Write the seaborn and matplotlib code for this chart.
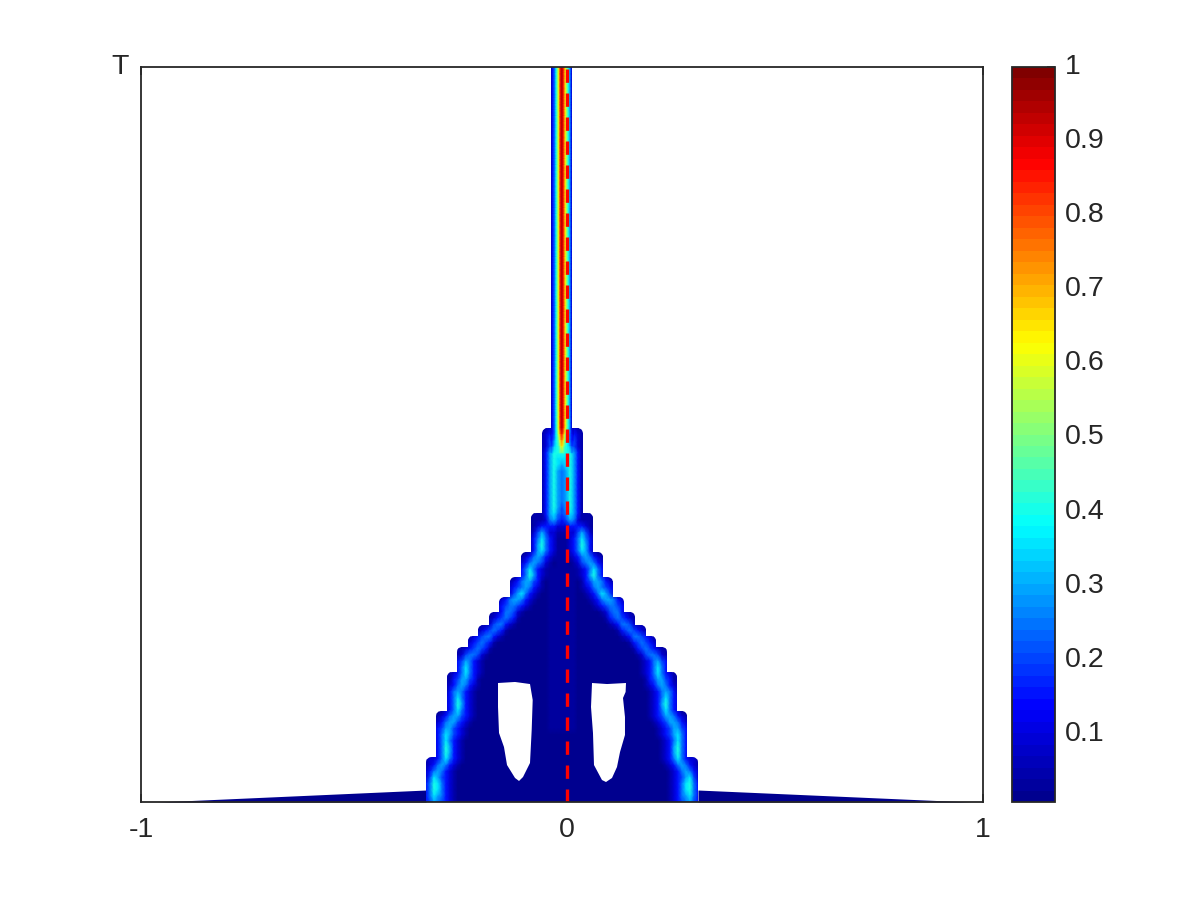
import numpy as np
import pandas as pd
import matplotlib
matplotlib.use("Agg")
import matplotlib.pyplot as plt
import seaborn as sns
from matplotlib.colors import LinearSegmentedColormap
from matplotlib.path import Path
from matplotlib.transforms import Affine2D

sns.set_style("white")
plt.rcParams['font.family'] = ['Liberation Sans', 'DejaVu Sans']
dark = '#262626'

# one character per grid point
level_chars = "012abcdefghijklmnopqrst"
level_values = [0.01, 0.02, 0.03, 0.05, 0.10, 0.15, 0.20, 0.25, 0.30, 0.35, 0.40, 0.45,
                0.50, 0.55, 0.60, 0.65, 0.70, 0.75, 0.80, 0.85, 0.90, 0.95, 1.00]

# narrow column: x from -0.026 in 1/421 steps, T from 1 down in 1/120 steps
core_top = "abcdegikmprsrpnljigfdba"
core_tip = ["bccdeghjlnpqpnljigfedcb",
            "ccdefghijlnonljihgfedcc",
            "ddefgghhijlmljihhggfedd",
            "ffghhhhhhiiiiihhhhhhgff"]

# wide part, left half up to the centre column (mirrored below), T from 0.508 down
field_rows = [
    "000000000000000000000000000000aaabcdd",
    "000000000000000000000000000000aabcdfh",
    "000000000000000000000000000000aabdegh",
    "000000000000000000000000000000aabdfhh",
    "000000000000000000000000000000aacfhhh",
    "000000000000000000000000000000aacfhgg",
    "000000000000000000000000000000aacfhgf",
    "000000000000000000000000000000aacfhfe",
    "000000000000000000000000000000aacfhfe",
    "000000000000000000000000000000aacfhfe",
    "000000000000000000000000000000aacfhfe",
    "000000000000000000000000000000aacfhfe",
    "000000000000000000000000000000aacfhfe",
    "000000000000000000000000000000aacfhfd",
    "00000000000000000000000000000aaacfged",
    "00000000000000000000000000000aaabefdc",
    "00000000000000000000000000000abccccbb",
    "00000000000000000000000000000bdfdbbaa",
    "0000000000000000000000000000acegecb22",
    "0000000000000000000000000000acfhecb22",
    "0000000000000000000000000000acfgecb22",
    "0000000000000000000000000aabcefecba22",
    "0000000000000000000000000abcefedba122",
    "0000000000000000000000000bcegecba2222",
    "0000000000000000000000000bcehfcba2222",
    "00000000000000000000000abceffdca12222",
    "00000000000000000000000bcdefecba12222",
    "00000000000000000000000bdfgecba112222",
    "00000000000000000000abceffecba1112222",
    "00000000000000000000bcdeedcba01112222",
    "000000000000000000aabceedba0011112222",
    "000000000000000000abcdedca00011112222",
    "000000000000000aaabdeecba000011112222",
    "000000000000000abcdedca00000011112222",
    "000000000000aabcdeecba000000011112222",
    "000000000000abcdedca00000000011112222",
    "000000000aaabcdedca000000000011112222",
    "000000000aabdeedba0000000000011112222",
    "000000000acdfecba00000000000011112222",
    "000000000bcegecba00000000000011112222",
    "0000000aabcegecba00000000000011112222",
    "0000000aacdffdca000000000000011112222",
    "0000000abcefecba000000000000011112222",
    "0000000acefecba0000000000000011112222",
    "0000000bcegecba0000000000000011112222",
    "0000000bcehfcba0000000000000011112222",
    "0000000bcegecba0000000000000011112222",
    "0000aabceffdcba0000000000000011112222",
    "0000abceffdcba00000000000000011112222",
    "0000bcdffdcba000000000000000011112222",
    "0000bcegfdcba000000000000000000000000",
    "0000bcegecba0000000000000000000000000",
    "0000bcehfcba0000000000000000000000000",
    "0000bcehfcba0000000000000000000000000",
    "00abbcegecba0000000000000000000000000",
    "00abcefecba00000000000000000000000000",
    "00bcefecba000000000000000000000000000",
    "00bdgfdcba000000000000000000000000000",
    "00cehgecba000000000000000000000000000",
    "00cehgecba000000000000000000000000000",
    "00cegfecba000000000000000000000000000",
    "00cdfedcba000000000000000000000000000",
]

# staircase outline, narrow column first
step_top = [1.0, 0.5088, 0.3932, 0.3401, 0.3061, 0.2789, 0.2585, 0.2408, 0.2259, 0.2109, 0.1769, 0.1238, 0.0612]
step_left = [-0.0261, -0.0475, -0.0736, -0.0974, -0.1235, -0.1496, -0.1734, -0.1995, -0.2233, -0.2494, -0.2732, -0.2993, -0.3230]
step_right = [0.0249, 0.0499, 0.0736, 0.0974, 0.1211, 0.1473, 0.1734, 0.1995, 0.2233, 0.2494, 0.2732, 0.2969, 0.3230]

# white pockets
hole_left_x = [-0.152, -0.1116, -0.076, -0.0696, -0.072, -0.076, -0.0926, -0.1021, -0.1116, -0.1306, -0.1378, -0.1496, -0.152]
hole_left_t = [0.1619, 0.1633, 0.1605, 0.1388, 0.098, 0.0531, 0.034, 0.0286, 0.0327, 0.0503, 0.0748, 0.0939, 0.1293]
hole_right_x = [0.0713, 0.1069, 0.152, 0.1511, 0.1449, 0.1496, 0.1496, 0.1378, 0.1306, 0.1188, 0.1045, 0.095, 0.076, 0.0736, 0.0689]
hole_right_t = [0.1619, 0.1605, 0.1619, 0.1497, 0.1415, 0.1156, 0.0912, 0.068, 0.0476, 0.0327, 0.0272, 0.0299, 0.0503, 0.0939, 0.1293]

# thin wedges along the bottom
skirt_left_x = [-0.96, -0.323]
skirt_left_t = [0.0, 0.0163]
skirt_right_x = [0.323, 0.97]
skirt_right_t = [0.0163, 0.0]

front_x = 0.012
x_ticks = [-1, front_x, 1]
x_labels = ['-1', '0', '1']
cbar_ticks = [0.1, 0.2, 0.3, 0.4, 0.5, 0.6, 0.7, 0.8, 0.9, 1]
cbar_labels = ['0.1', '0.2', '0.3', '0.4', '0.5', '0.6', '0.7', '0.8', '0.9', '1']
v_min = 0.008
v_max = 1


def decode(rows):
    table = dict(zip(level_chars, level_values))
    return pd.DataFrame([[table[c] for c in r] for r in rows])


def stair_path():
    rx, rt = 0.0154, 0.0088
    verts = [(step_left[-1], 0)]
    codes = [Path.MOVETO]
    for i in range(len(step_top) - 1, 0, -1):
        l, t = step_left[i], step_top[i]
        verts += [(l, t - rt), (l, t), (l + rx, t), (step_left[i - 1], t)]
        codes += [Path.LINETO, Path.CURVE3, Path.CURVE3, Path.LINETO]
    verts += [(step_left[0], 1), (step_right[0], 1), (step_right[0], step_top[1])]
    codes += [Path.LINETO, Path.LINETO, Path.LINETO]
    for i in range(1, len(step_top)):
        r, t = step_right[i], step_top[i]
        below = step_top[i + 1] if i + 1 < len(step_top) else 0
        verts += [(r - rx, t), (r, t), (r, t - rt), (r, below)]
        codes += [Path.LINETO, Path.CURVE3, Path.CURVE3, Path.LINETO]
    verts.append(verts[0])
    codes.append(Path.CLOSEPOLY)
    return Path(verts, codes)


jet = LinearSegmentedColormap.from_list(
    'jet64', [(0, (0, 0, 0.5625)), (0.125, (0, 0, 1)), (0.375, (0, 1, 1)),
              (0.625, (1, 1, 0)), (0.875, (1, 0, 0)), (1, (0.5, 0, 0))], N=64)

fig = plt.figure(figsize=(12, 9), dpi=100)
ax = fig.add_axes([141 / 1200, 98 / 900, 842 / 1200, 735 / 900])
cax = fig.add_axes([1012 / 1200, 98 / 900, 43 / 1200, 735 / 900])

field = decode([r + r[-2::-1] for r in field_rows])
core = decode([core_top] * 60 + core_tip)

sns.heatmap(field, ax=ax, cbar_ax=cax, cmap=jet, vmin=v_min, vmax=v_max, shading='gouraud',
            xticklabels=False, yticklabels=False, cbar_kws={'ticks': cbar_ticks})
sns.heatmap(core, ax=ax, cbar=False, cmap=jet, vmin=v_min, vmax=v_max, shading='gouraud',
            xticklabels=False, yticklabels=False)

outline = stair_path()
field_mesh, core_mesh = ax.collections[0], ax.collections[1]
field_mesh.set_transform(Affine2D().scale(4 / 421, -1 / 120).translate(-0.342, 0.5083) + ax.transData)
core_mesh.set_transform(Affine2D().scale(1 / 421, -1 / 120).translate(-0.0261, 1.0) + ax.transData)
for mesh in (field_mesh, core_mesh):
    mesh.set_clip_path(outline, ax.transData)

ax.fill_between(skirt_left_x, skirt_left_t, 0, color=jet(0), lw=0, zorder=0.5)
ax.fill_between(skirt_right_x, skirt_right_t, 0, color=jet(0), lw=0, zorder=0.5)
ax.fill(hole_left_x, hole_left_t, color='white', lw=0, zorder=2)
ax.fill(hole_right_x, hole_right_t, color='white', lw=0, zorder=2)
ax.plot([front_x, front_x], [1, 0], color='red', lw=2.4, linestyle=(6.6, (4, 3.2)), dash_capstyle='butt', zorder=2.5)

ax.set_xlim(-1, 1)
ax.set_ylim(0, 1)
ax.set_xticks(x_ticks)
ax.set_xticklabels(x_labels, fontsize=20.5, color=dark, rotation=0)
ax.set_yticks([1])
ax.set_yticklabels(['T'], fontsize=20.5, color=dark, rotation=0, va='center')
ax.tick_params(axis='x', direction='in', top=True, bottom=True, length=6, width=1.1, color=dark, pad=11)
ax.tick_params(axis='y', left=False, pad=5)
ax.set_xlabel('')
ax.set_ylabel('')
for side in ax.spines.values():
    side.set_visible(True)
    side.set_color(dark)
    side.set_linewidth(1.3)
    side.set_zorder(5)

cb = field_mesh.colorbar
cb.outline.set_visible(True)
cb.outline.set_edgecolor(dark)
cb.outline.set_linewidth(1.3)
cb.set_ticklabels(cbar_labels)
cb.ax.tick_params(direction='in', length=5.5, width=1.1, color=dark, labelcolor=dark, labelsize=20.5, pad=7)
for label in cb.ax.get_yticklabels():
    label.set_verticalalignment('center')

fig.savefig('out.png', dpi=100)
